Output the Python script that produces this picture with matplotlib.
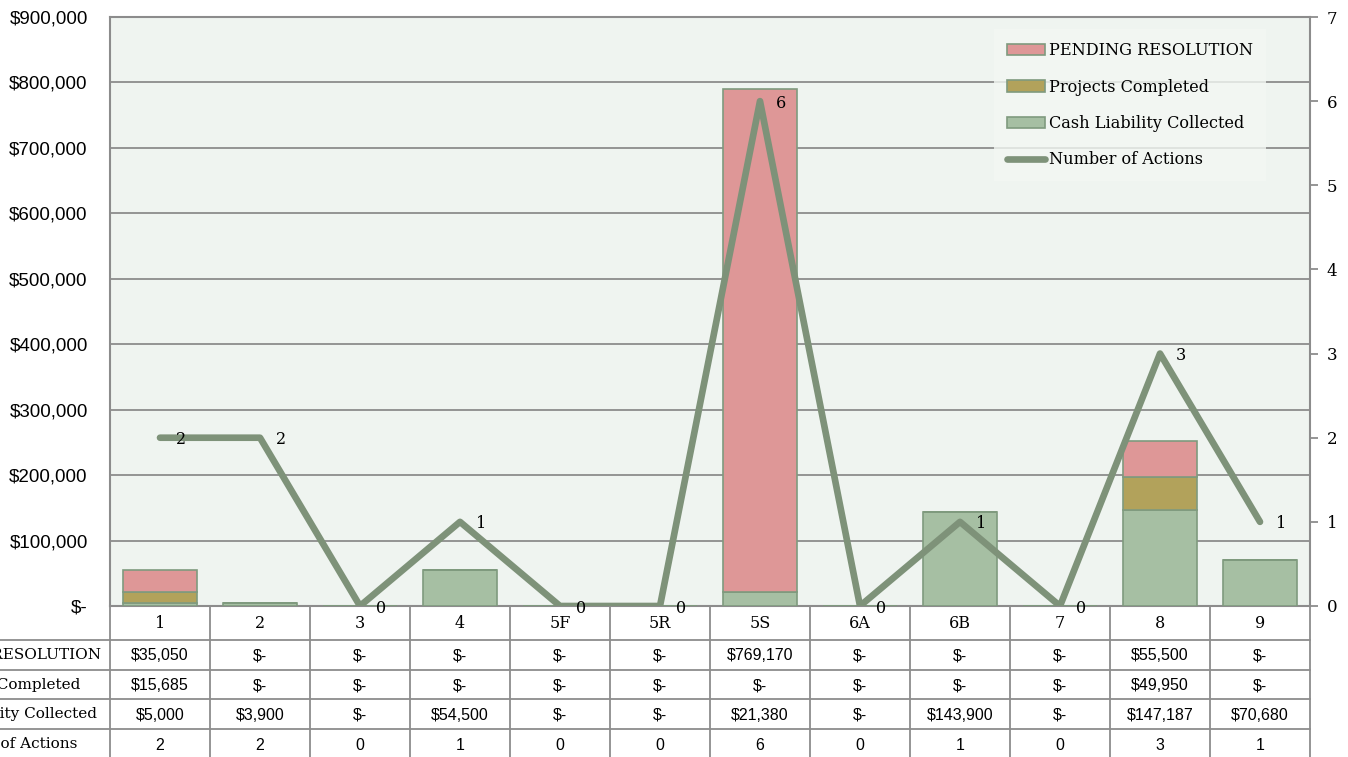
import matplotlib
matplotlib.use("Agg")
import matplotlib.pyplot as plt
import matplotlib.transforms as mtransforms
from matplotlib.ticker import FuncFormatter
import numpy as np

# data
categories = ["1", "2", "3", "4", "5F", "5R", "5S", "6A", "6B", "7", "8", "9"]
pending = [35050, 0, 0, 0, 0, 0, 769170, 0, 0, 0, 55500, 0]
completed = [15685, 0, 0, 0, 0, 0, 0, 0, 0, 0, 49950, 0]
cash = [5000, 3900, 0, 54500, 0, 0, 21380, 0, 143900, 0, 147187, 70680]
actions = [2, 2, 0, 1, 0, 0, 6, 0, 1, 0, 3, 1]

row_labels = ["PENDING RESOLUTION", "Projects Completed",
              "Cash Liability Collected", "Number of Actions"]

c_pending = "#DE9797"
c_completed = "#B2A25B"
c_cash = "#A6BFA3"
c_edge = "#7F9A7E"
c_line = "#7E9279"
c_bg = "#EFF4F0"
c_grid = "#8C8C8C"

SERIF = "DejaVu Serif"
SANS = "Liberation Sans"

W, H = 1348, 757
fig = plt.figure(figsize=(W / 100, H / 100), dpi=100)

L, R, T, B = 110, 1310, 17, 606
ax = fig.add_axes([L / W, 1 - B / H, (R - L) / W, (B - T) / H])
ax.set_facecolor(c_bg)

x = np.arange(len(categories))
cash_a = np.array(cash)
comp_a = np.array(completed)
pend_a = np.array(pending)

bw = 0.74
ax.bar(x, cash_a, bw, color=c_cash, edgecolor=c_edge, linewidth=1.2,
       label="Cash Liability Collected", zorder=3)
ax.bar(x, comp_a, bw, bottom=cash_a, color=c_completed, edgecolor=c_edge,
       linewidth=1.2, label="Projects Completed", zorder=3)
ax.bar(x, pend_a, bw, bottom=cash_a + comp_a, color=c_pending,
       edgecolor=c_edge, linewidth=1.2, label="PENDING RESOLUTION", zorder=3)

ax.set_xlim(-0.5, len(categories) - 0.5)
ax.set_ylim(0, 900000)
ax.set_yticks(np.arange(0, 900001, 100000))
ax.yaxis.set_major_formatter(FuncFormatter(
    lambda v, p: "$-" if v == 0 else "${:,.0f}".format(v)))
ax.tick_params(axis="y", length=0, pad=16, labelsize=13.5)
for lab in ax.get_yticklabels():
    lab.set_fontfamily(SANS)
ax.set_xticks([])
ax.grid(axis="y", color=c_grid, linewidth=1.3, zorder=1)
for s in ax.spines.values():
    s.set_color("#8C8C8C")
    s.set_linewidth(1.5)

ax2 = ax.twinx()
ax2.plot(x, actions, color=c_line, linewidth=4.8, solid_capstyle="round",
         label="Number of Actions", zorder=5)
ax2.set_ylim(0, 7)
ax2.set_yticks(range(0, 8))
ax2.tick_params(axis="y", length=6, color="#8C8C8C", width=1.3, pad=6,
                labelsize=12)
for lab in ax2.get_yticklabels():
    lab.set_fontfamily(SERIF)
for s in ax2.spines.values():
    s.set_visible(False)
for xi, v in zip(x, actions):
    ax2.annotate(str(v), (xi, v), xytext=(15, -1.5),
                 textcoords="offset points", ha="center", va="center",
                 fontsize=11.5, family=SERIF, zorder=6)

# legend
h1, l1 = ax.get_legend_handles_labels()
h2, l2 = ax2.get_legend_handles_labels()
order = [2, 1, 0]
leg = ax2.legend([h1[i] for i in order] + h2, [l1[i] for i in order] + l2,
                 loc="upper right", bbox_to_anchor=(0.963, 0.979),
                 prop={"family": SERIF, "size": 11.6}, handlelength=2.4,
                 handleheight=0.7, handletextpad=0.2, labelspacing=1.2,
                 borderpad=0.8, borderaxespad=0.0, frameon=True,
                 fancybox=False)
leg.get_frame().set_facecolor("#F3F7F3")
leg.get_frame().set_edgecolor("none")

# data table under the plot
over = fig.add_axes([0, 0, 1, 1], zorder=-1)
over.set_xlim(0, W)
over.set_ylim(H, 0)
over.axis("off")
bt = mtransforms.blended_transform_factory(ax.transData, over.transData)

tb_col = "#8C8C8C"
row_y = [606, 640, 670, 699, 729, 759]

# header row with category names
for xi, c in zip(x, categories):
    over.text(xi, (row_y[0] + row_y[1]) / 2 + 1, c, transform=bt,
              ha="center", va="center", family=SERIF, fontsize=11.5)
for k in range(len(categories) + 1):
    over.plot([k - 0.5, k - 0.5], [row_y[0], row_y[-1]], transform=bt,
              color=tb_col, lw=1.3)
over.plot([L, R], [row_y[1], row_y[1]], color=tb_col, lw=1.3)

def fmt(v):
    return "$-" if v == 0 else "${:,.0f}".format(v)

table_rows = [
    [fmt(v) for v in pending],
    [fmt(v) for v in completed],
    [fmt(v) for v in cash],
    [str(v) for v in actions],
]
for r, (lab, vals) in enumerate(zip(row_labels, table_rows)):
    yc = (row_y[r + 1] + row_y[r + 2]) / 2
    over.text(5, yc, lab, ha="center", va="center", family=SERIF,
              fontsize=11)
    for xi, s in zip(x, vals):
        over.text(xi, yc + 1, s, transform=bt, ha="center", va="center",
                  family=SANS, fontsize=11.5)
    over.plot([0, R], [row_y[r + 2], row_y[r + 2]], color=tb_col, lw=1.3)
over.plot([0, L], [row_y[1], row_y[1]], color=tb_col, lw=1.3)

fig.savefig("out.png", dpi=100)
